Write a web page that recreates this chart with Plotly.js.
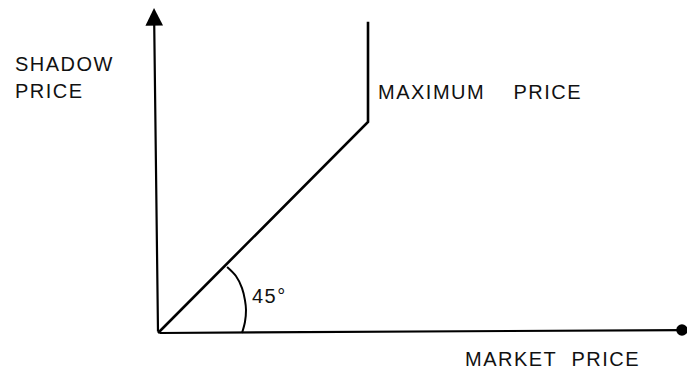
<!DOCTYPE html>
<html>
<head>
<meta charset="utf-8">
<script src="https://cdn.plot.ly/plotly-3.0.1.min.js"></script>
<style>
html, body { margin: 0; padding: 0; background: #fff; }
#chart { width: 687px; height: 374px; }
.annotation-text { letter-spacing: 1.5px; }
</style>
</head>
<body>
<div id="chart"></div>
<script>
// Shadow-price curve: follows market price (45°) up to the maximum price, then vertical
const marketPrice = [0, 10, 10];
const shadowPrice = [0, 10, 14.75];

// Hand-drawn 45° angle arc
const arcX = [3.29, 3.71, 4.0, 4.14, 4.19, 4.14, 4.0];
const arcY = [3.13, 2.70, 2.13, 1.56, 1.09, 0.52, 0.0];

// Axis extents (arrow tips)
const xAxisEnd = [24.95, 0.14];
const yAxisEnd = [-0.19, 15.4];

// Labels
const yLabelLines = ['SHADOW', 'PRICE'];
const xLabel = 'MARKET\u00a0\u00a0PRICE';
const curveLabel = 'MAXIMUM\u00a0\u00a0\u00a0\u00a0PRICE';
const angleLabel = '45°';

const FONT = {family: 'Liberation Sans, Arial, sans-serif', size: 20, color: '#111'};

const traces = [
  {x: marketPrice, y: shadowPrice, mode: 'lines', type: 'scatter',
   line: {color: '#000', width: 2.6}, hoverinfo: 'skip'},
  {x: arcX, y: arcY, mode: 'lines', type: 'scatter',
   line: {color: '#000', width: 2, shape: 'spline'}, hoverinfo: 'skip'}
];

const annotations = [
  // y axis with arrowhead
  {x: yAxisEnd[0], y: yAxisEnd[1], ax: 0, ay: 0, xref: 'x', yref: 'y', axref: 'x', ayref: 'y',
   text: '', showarrow: true, arrowhead: 2, arrowsize: 1.6, arrowwidth: 2.2, arrowcolor: '#000'},
  // x axis with arrowhead
  {x: xAxisEnd[0], y: xAxisEnd[1], ax: 0, ay: 0, xref: 'x', yref: 'y', axref: 'x', ayref: 'y',
   text: '', showarrow: true, arrowhead: 6, arrowsize: 1.3, arrowwidth: 2.2, arrowcolor: '#000'},
  {x: -6.90, y: 12.75, xref: 'x', yref: 'y', text: yLabelLines[0], showarrow: false,
   xanchor: 'left', yanchor: 'middle', font: FONT},
  {x: -6.90, y: 11.47, xref: 'x', yref: 'y', text: yLabelLines[1], showarrow: false,
   xanchor: 'left', yanchor: 'middle', font: FONT},
  {x: 10.38, y: 11.40, xref: 'x', yref: 'y', text: curveLabel, showarrow: false,
   xanchor: 'left', yanchor: 'middle', font: FONT},
  {x: 14.52, y: -1.23, xref: 'x', yref: 'y', text: xLabel, showarrow: false,
   xanchor: 'left', yanchor: 'middle', font: FONT},
  {x: 4.38, y: 1.75, xref: 'x', yref: 'y', text: angleLabel, showarrow: false,
   xanchor: 'left', yanchor: 'middle', font: FONT}
];

const layout = {
  width: 687, height: 374,
  margin: {l: 0, r: 0, t: 0, b: 0, pad: 0},
  paper_bgcolor: '#fff', plot_bgcolor: '#fff',
  showlegend: false,
  xaxis: {range: [-7.524, 25.19], visible: false, fixedrange: true},
  yaxis: {range: [-1.943, 15.78], visible: false, fixedrange: true},
  annotations: annotations
};

Plotly.newPlot('chart', traces, layout, {displayModeBar: false, staticPlot: true});
</script>
</body>
</html>
